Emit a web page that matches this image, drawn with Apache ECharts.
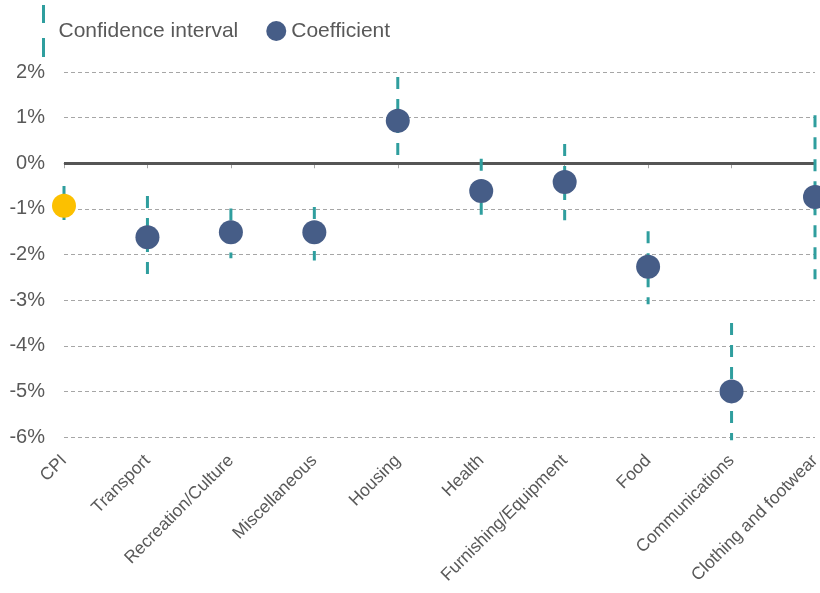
<!DOCTYPE html>
<html>
<head>
<meta charset="utf-8">
<script src="https://cdn.jsdelivr.net/npm/echarts@6/dist/echarts.min.js"></script>
<style>
  html, body { margin: 0; padding: 0; background: #fff; }
  #chart { width: 820px; height: 593px; }
</style>
</head>
<body>
<div id="chart"></div>
<script>
// 카테고리
var categories = ['CPI', 'Transport', 'Recreation/Culture', 'Miscellaneous', 'Housing',
  'Health', 'Furnishing/Equipment', 'Food', 'Communications', 'Clothing and footwear'];

// 계수 (%)
var coef = [-0.93, -1.62, -1.51, -1.51, 0.93, -0.61, -0.41, -2.27, -5.0, -0.74];

// 신뢰구간 하한 / 상한 (%)
var ciLow = [-1.27, -2.46, -2.08, -2.13, 0.14, -1.16, -1.25, -3.09, -6.07, -2.54];
var ciHigh = [-0.5, -0.72, -0.99, -0.96, 1.89, 0.1, 0.42, -1.49, -3.5, 1.05];

var yTicks = [-6, -5, -4, -3, -2, -1, 0, 1, 2];

var teal = '#2f9e9e';
var navy = '#465d87';
var yellow = '#fcc000';
var font = "'Liberation Sans', Arial, sans-serif";

var myChart = echarts.init(document.getElementById('chart'));

var ciData = categories.map(function (c, i) {
  return [i, ciLow[i], ciHigh[i]];
});

var coefData = coef.map(function (v, i) {
  var item = { value: [i, v] };
  if (i === 0) item.itemStyle = { color: yellow };
  return item;
});

var option = {
  animation: false,
  textStyle: { fontFamily: font },
  legend: {
    left: 37,
    top: 0,
    itemGap: 28,
    itemWidth: 20,
    itemHeight: 52,
    textStyle: { fontSize: 21, color: '#595959', fontFamily: font },
    data: [
      { name: 'Confidence interval', icon: 'path://M0,0h3v18h-3z M0,33h3v19h-3z', itemStyle: { color: teal } },
      { name: 'Coefficient', icon: 'circle' }
    ]
  },
  grid: { left: 64, right: 5, top: 72, bottom: 156, outerBoundsMode: 'none', containLabel: false },
  xAxis: {
    type: 'category',
    data: categories,
    boundaryGap: false,
    axisLine: { lineStyle: { color: '#a6a6a6', width: 1 } },
    axisTick: { show: true, length: 5, lineStyle: { color: '#a6a6a6' } },
    axisLabel: { rotate: 45, fontSize: 17.5, color: '#595959', margin: 21, interval: 0 },
    splitLine: { show: false }
  },
  yAxis: {
    type: 'value',
    min: yTicks[0],
    max: yTicks[yTicks.length - 1],
    interval: 1,
    axisLine: { show: false },
    axisTick: { show: false },
    axisLabel: { formatter: '{value}%', fontSize: 20, color: '#595959', margin: 19 },
    splitLine: { lineStyle: { color: '#a6a6a6', type: [4, 3], width: 1 } }
  },
  series: [
    {
      name: 'Confidence interval',
      type: 'custom',
      z: 2,
      itemStyle: { color: teal },
      renderItem: function (params, api) {
        var top = api.coord([api.value(0), api.value(2)]);
        var bot = api.coord([api.value(0), api.value(1)]);
        return {
          type: 'line',
          shape: { x1: top[0], y1: top[1], x2: bot[0], y2: bot[1] },
          style: { stroke: teal, lineWidth: 3, lineDash: [12, 10] }
        };
      },
      encode: { x: 0, y: [1, 2] },
      data: ciData
    },
    {
      name: 'Coefficient',
      type: 'scatter',
      z: 3,
      symbolSize: 24,
      itemStyle: { color: navy, opacity: 1 },
      data: coefData,
      markLine: {
        silent: true,
        symbol: 'none',
        label: { show: false },
        lineStyle: { color: '#555555', width: 3, type: 'solid' },
        data: [{ yAxis: 0 }],
        z: 1
      }
    }
  ]
};

myChart.setOption(option);
</script>
</body>
</html>
